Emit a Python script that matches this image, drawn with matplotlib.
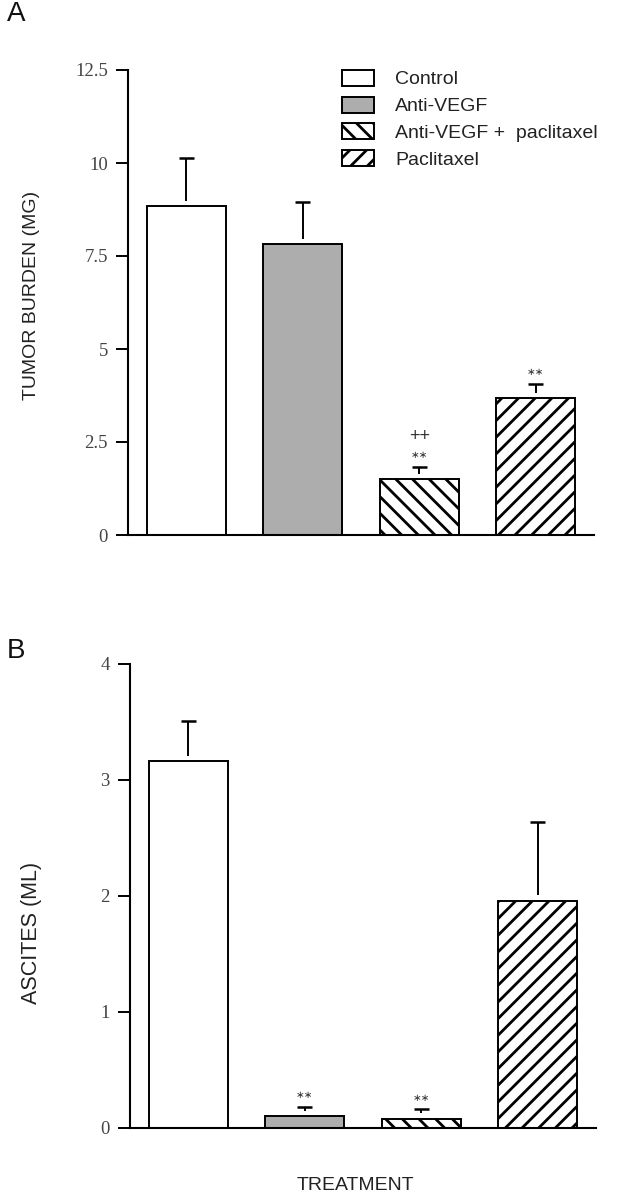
import matplotlib
matplotlib.use("Agg")
import matplotlib.pyplot as plt
from matplotlib.patches import Rectangle

# ---------------- data ----------------
categories = ["Control", "Anti-VEGF", "Anti-VEGF +  paclitaxel", "Paclitaxel"]
tumor_mean = [8.84, 7.82, 1.51, 3.69]
tumor_err = [1.29, 1.12, 0.32, 0.37]
tumor_stars = ["", "", "\u2217\u2217", "\u2217\u2217"]
tumor_plus = ["", "", "++", ""]
ascites_mean = [3.16, 0.10, 0.08, 1.96]
ascites_err = [0.35, 0.08, 0.08, 0.68]
ascites_stars = ["", "\u2217\u2217", "\u2217\u2217", ""]
tumor_ticks = [0, 2.5, 5, 7.5, 10, 12.5]
tumor_ticklabels = ["0", "2.5", "5", "7.5", "10", "12.5"]
ascites_ticks = [0, 1, 2, 3, 4]
ascites_ticklabels = ["0", "1", "2", "3", "4"]

# ---------------- style ----------------
facecolors = ["white", "#adadad", "white", "white"]
hatches = [None, None, "\\\\", "//"]
plt.rcParams["hatch.linewidth"] = 2.0
plt.rcParams["hatch.color"] = "black"
sans = ["Liberation Sans", "DejaVu Sans"]
serif = ["Liberation Serif", "DejaVu Serif"]
W, H = 618, 1200

fig = plt.figure(figsize=(W / 100, H / 100), dpi=100)
fig.patch.set_facecolor("white")

axA = fig.add_axes([128 / W, 1 - 535 / H, (594 - 128) / W, 465 / H])
axB = fig.add_axes([130 / W, 1 - 1128 / H, (596 - 130) / W, 464 / H])


def draw_panel(ax, means, errs, ticks, ticklabels, ymax, gap, stars, plus=None):
    x = list(range(len(means)))
    ax.bar(x, means, width=0.68, color=facecolors, edgecolor="black",
           linewidth=1.4, hatch=hatches, zorder=2)
    for xi, m, e in zip(x, means, errs):
        ax.vlines(xi, m + gap, m + e, color="black", linewidth=1.4, zorder=3)
        ax.hlines(m + e, xi - 0.065, xi + 0.065, color="black", linewidth=1.8, zorder=3)
    for xi, m, e, s in zip(x, means, errs, stars):
        if s:
            ax.annotate(s, (xi, m + e), xytext=(0, 8.5), textcoords="offset points",
                        ha="center", va="center", fontsize=7.5, color="#333333",
                        family=["DejaVu Sans"])
    if plus:
        for xi, m, e, p in zip(x, means, errs, plus):
            if p:
                ax.annotate(p, (xi, m + e), xytext=(0, 22), textcoords="offset points",
                            ha="center", va="center", fontsize=13, color="#333333",
                            family=sans)
    ax.set_xlim(-0.5, 3.5)
    ax.set_ylim(0, ymax)
    ax.set_yticks(ticks)
    ax.set_yticklabels(ticklabels, family=serif, color="#444444")
    ax.tick_params(axis="y", direction="out", length=8.5, width=1.4, pad=6,
                   labelsize=13.5)
    ax.tick_params(axis="x", bottom=False, labelbottom=False)
    for sp in ["top", "right"]:
        ax.spines[sp].set_visible(False)
    ax.spines["left"].set_linewidth(1.5)
    ax.spines["bottom"].set_linewidth(1.5)


draw_panel(axA, tumor_mean, tumor_err, tumor_ticks, tumor_ticklabels, 12.5, 0.14,
           tumor_stars, tumor_plus)
draw_panel(axB, ascites_mean, ascites_err, ascites_ticks, ascites_ticklabels, 4, 0.05,
           ascites_stars)

axA.set_ylabel("TUMOR BURDEN (MG)", family=sans, fontsize=14, color="#222222")
axA.yaxis.set_label_coords(-0.189, 0.516)
axB.set_ylabel("ASCITES (ML)", family=sans, fontsize=15.5, color="#222222")
axB.yaxis.set_label_coords(-0.189, 0.42)

fig.text(355 / W, 1 - 1185 / H, "TREATMENT", family=sans, fontsize=14,
         ha="center", va="center", color="#222222")
fig.text(16 / W, 1 - 14 / H, "A", family=sans, fontsize=20, ha="center",
         va="center", color="#111111")
fig.text(16 / W, 1 - 651 / H, "B", family=sans, fontsize=20, ha="center",
         va="center", color="#111111")

# ---------------- legend (panel A) ----------------
box_x, box_w, box_h = 342, 32, 16
row_tops = [70, 96.7, 123.4, 150.1]
for top, lab, fc, ht in zip(row_tops, categories, facecolors, hatches):
    r = Rectangle((box_x / W, 1 - (top + box_h) / H), box_w / W, box_h / H,
                  transform=fig.transFigure, facecolor=fc, edgecolor="black",
                  linewidth=1.4, hatch=ht)
    fig.add_artist(r)
    fig.text(395 / W, 1 - (top + box_h / 2 + 2) / H, lab, family=sans, fontsize=14,
             ha="left", va="center", color="#222222")

fig.savefig("out.png", dpi=100, facecolor="white")
